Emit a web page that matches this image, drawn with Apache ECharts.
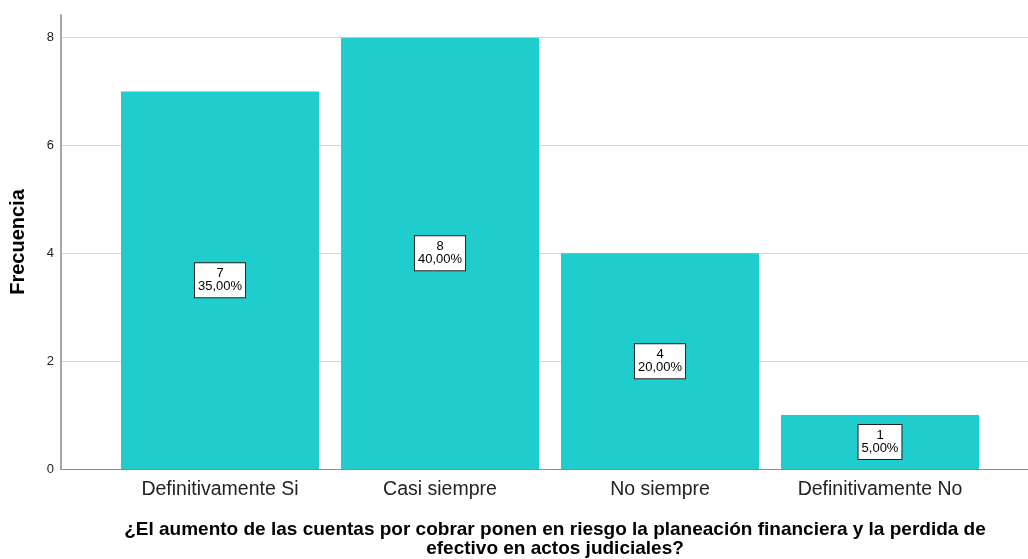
<!DOCTYPE html>
<html>
<head>
<meta charset="utf-8">
<script src="https://cdn.jsdelivr.net/npm/echarts@6/dist/echarts.min.js"></script>
<style>
  html, body { margin: 0; padding: 0; background: #fff; }
  #chart { width: 1028px; height: 559px; }
</style>
</head>
<body>
<div id="chart"></div>
<script>
// data
var categories = ['Definitivamente Si', 'Casi siempre', 'No siempre', 'Definitivamente No'];
var counts = [7, 8, 4, 1];
var percents = ['35,00%', '40,00%', '20,00%', '5,00%'];
var yTicks = [0, 2, 4, 6, 8];

var xTitle = '¿El aumento de las cuentas por cobrar ponen en riesgo la planeación financiera y la perdida de\nefectivo en actos judiciales?';
var yTitle = 'Frecuencia';

var fontFam = '"Liberation Sans", Arial, sans-serif';
var yMax = 8.42;

var chart = echarts.init(document.getElementById('chart'));

var option = {
	animation: false,
	title: {
		text: xTitle,
		left: 550,
		top: 515,
		textAlign: 'center',
		textStyle: {
			fontFamily: fontFam,
			fontSize: 19,
			fontWeight: 'bold',
			color: '#000',
			lineHeight: 19
		}
	},
	grid: [
		// background grid: y axis, gridlines, baseline
		{ left: 61, right: 0, top: 15, bottom: 90 },
		// bars grid
		{ left: 110, right: 38, top: 15, bottom: 90 }
	],
	xAxis: [
		{
			gridIndex: 0,
			type: 'value',
			min: 0,
			max: 1,
			axisLine: { show: true, lineStyle: { color: '#8a8a8a', width: 1 } },
			axisTick: { show: false },
			axisLabel: { show: false },
			splitLine: { show: false }
		},
		{
			gridIndex: 1,
			type: 'category',
			data: categories,
			axisLine: { show: false },
			axisTick: { show: false },
			axisLabel: {
				margin: 11,
				fontFamily: fontFam,
				fontSize: 19.5,
				color: '#222'
			}
		}
	],
	yAxis: [
		{
			gridIndex: 0,
			type: 'value',
			min: 0,
			max: yMax,
			interval: 2,
			name: yTitle,
			nameLocation: 'middle',
			nameGap: 33,
			nameRotate: 90,
			nameTextStyle: {
				fontFamily: fontFam,
				fontSize: 20,
				fontWeight: 'bold',
				color: '#000'
			},
			axisLine: { show: true, lineStyle: { color: '#a8a8a8', width: 2 } },
			axisTick: { show: false },
			axisLabel: {
				margin: 7,
				fontFamily: fontFam,
				fontSize: 13,
				color: '#222',
				showMaxLabel: false,
				formatter: function (v) {
					return yTicks.indexOf(v) >= 0 ? String(v) : '';
				}
			},
			splitLine: {
				show: true,
				showMinLine: false,
				showMaxLine: false,
				lineStyle: { color: '#d4d4d4', width: 1 }
			}
		},
		{
			gridIndex: 1,
			type: 'value',
			min: 0,
			max: yMax,
			show: false
		}
	],
	series: [
		{
			type: 'bar',
			xAxisIndex: 1,
			yAxisIndex: 1,
			data: counts,
			barWidth: 198,
			itemStyle: { color: '#1fcdcd' },
			label: {
				show: true,
				position: 'inside',
				fontFamily: fontFam,
				fontSize: 13,
				lineHeight: 13,
				color: '#000',
				backgroundColor: '#fff',
				borderColor: '#222',
				borderWidth: 1,
				padding: [4, 3, 4, 3],
				align: 'center',
				formatter: function (p) {
					return counts[p.dataIndex] + '\n' + percents[p.dataIndex];
				}
			}
		}
	]
};

chart.setOption(option);
</script>
</body>
</html>
